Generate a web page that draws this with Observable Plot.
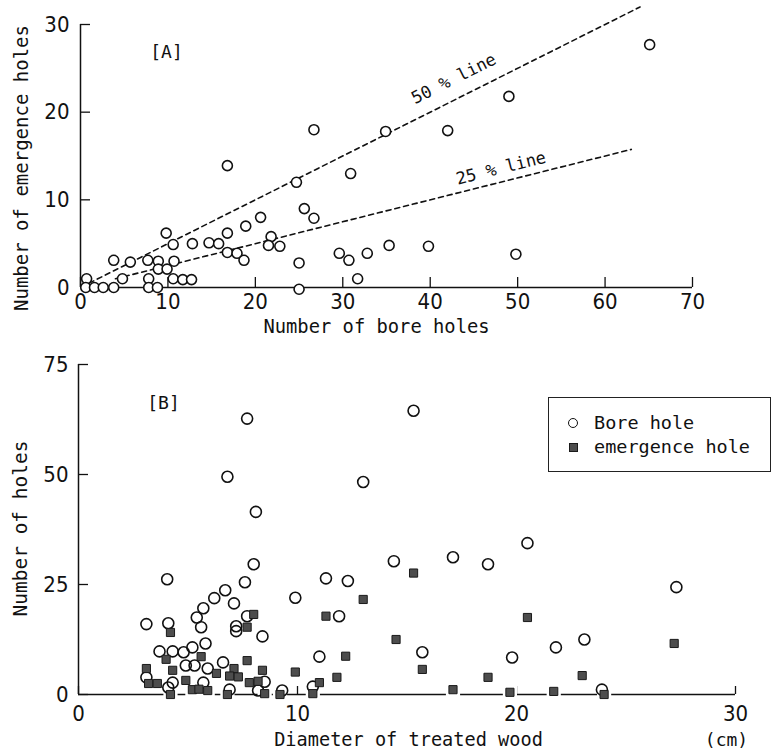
<!DOCTYPE html>
<html>
<head>
<meta charset="utf-8">
<script src="https://cdn.jsdelivr.net/npm/d3@7"></script>
<script src="https://cdn.jsdelivr.net/npm/@observablehq/plot@0.6"></script>
<style>
  html, body { margin: 0; padding: 0; background: #fff; }
  #wrap { position: relative; width: 773px; height: 753px; overflow: hidden; }
  #wrap svg { display: block; }
  .legend { position: absolute; left: 548px; top: 397px; width: 223px; height: 75px;
    border: 1.5px solid #222; background: #fff; font-family: "DejaVu Sans Mono", "Liberation Mono", monospace;
    font-size: 18.5px; color: #111; box-sizing: border-box; }
  .legend .row { position: absolute; left: 0; height: 22px; line-height: 22px; white-space: nowrap; }
  .legend .sym { position: absolute; }
  .legend .lab { position: absolute; left: 45px; }
</style>
</head>
<body>
<div id="wrap"></div>
<script>
// ---------- Panel A: bore holes vs emergence holes ----------
const boreA   = [0.7,0.6,1.6,2.6,3.8,3.8,4.8,5.7,7.7,7.8,7.8,8.8,8.9,8.9,9.9,9.8,10.6,10.7,10.6,11.7,12.7,12.8,14.7,15.8,16.8,16.8,16.8,17.9,18.7,18.9,20.6,21.8,21.5,22.8,24.7,25.0,25.0,25.6,26.7,26.7,29.6,30.7,30.9,31.7,32.8,34.9,35.3,39.8,42.0,49.0,49.8,65.1];
const emergeA = [1.0,0,0,0,0,3.1,1.0,2.9,3.1,1.0,0,0,3.0,2.1,2.1,6.2,4.9,3.0,1.0,0.9,0.9,5.0,5.1,5.0,6.2,13.9,4.0,3.9,3.1,7.0,8.0,5.8,4.8,4.7,12.0,2.8,-0.2,9.0,7.9,18.0,3.9,3.1,13.0,1.0,3.9,17.8,4.8,4.7,17.9,21.8,3.8,27.7];
const refRatios = [0.5, 0.25];
const refLabels = ["50 % line", "25 % line"];
const refStartX = [1, 4];
const refEndX   = [64, 63];
const refLabelX = [42.7, 48.1];
const refLabelY = [23.8, 13.6];
const xTicksA = [0, 10, 20, 30, 40, 50, 60, 70];
const yTicksA = [0, 10, 20, 30];

// ---------- Panel B: diameter vs number of holes ----------
const boreBx = [3.1,4.05,4.1,3.7,4.3,4.8,5.2,5.4,5.6,5.7,5.8,6.2,6.7,6.8,7.1,7.2,7.2,7.6,7.7,7.7,8.0,8.1,8.4,6.6,5.9,4.9,5.3,3.1,4.3,5.7,4.1,6.9,8.2,8.5,9.3,9.9,10.7,11.0,11.3,11.9,12.3,13.0,14.4,15.3,15.7,17.1,18.7,19.8,20.5,21.8,23.1,23.9,27.3];
const boreBy = [16,26.2,16.2,9.8,9.8,9.6,10.7,17.5,15.3,19.6,11.6,21.9,23.7,49.5,20.7,15.5,14.4,25.5,62.7,17.8,29.6,41.5,13.2,7.3,5.9,6.6,6.6,3.9,2.7,2.7,1.6,1.1,0.9,2.9,0.9,22,1.8,8.6,26.4,17.8,25.8,48.3,30.3,64.5,9.6,31.2,29.6,8.4,34.4,10.7,12.5,1.1,24.4];
const emergeBx = [3.1,3.2,3.6,4.2,4.0,4.3,4.2,4.9,5.2,5.6,5.9,5.5,6.3,7.1,6.9,7.3,6.8,7.7,7.7,8.0,7.8,8.2,8.4,8.5,9.2,9.9,10.7,11.0,11.3,11.8,12.2,13.0,14.5,15.3,15.7,17.1,18.7,19.7,20.5,21.7,23.0,24.0,27.2];
const emergeBy = [5.9,2.5,2.5,14.1,8.0,5.5,0,3.2,1.1,8.6,0.9,1.2,4.8,5.9,4.2,4.0,0,7.7,15.3,18.2,2.7,3.0,5.5,0.2,0,5.1,0.2,2.7,17.8,3.9,8.7,21.6,12.5,27.6,5.7,1.1,3.9,0.5,17.5,0.7,4.3,0,11.6];
const xTicksB = [0, 10, 20, 30];
const yTicksB = [0, 25, 50, 75];
const legendLabels = ["Bore hole", "emergence hole"];

const mono = '"DejaVu Sans Mono", "Liberation Mono", monospace';
const digits = '"Liberation Sans Narrow", "DejaVu Sans Condensed", "Liberation Sans", sans-serif';
const ink = "#111";
const center = {textAnchor: "middle", lineAnchor: "middle", fontFamily: mono, fill: ink};

const ptsA = boreA.map((x, i) => ({x, y: emergeA[i]}));
const refLines = refRatios.flatMap((r, i) => [
  {id: i, x: refStartX[i], y: r * refStartX[i]},
  {id: i, x: refEndX[i],   y: r * refEndX[i]}
]);
const refText = refLabels.map((t, i) => ({t, x: refLabelX[i], y: refLabelY[i], rot: -Math.atan(refRatios[i]) * 180 / Math.PI}));

const plotA = Plot.plot({
  width: 773, height: 335,
  marginLeft: 80, marginRight: 81, marginTop: 24, marginBottom: 48,
  style: {fontFamily: digits, color: ink, background: "white", overflow: "visible"},
  x: {domain: [0, 70]},
  y: {domain: [0, 30]},
  marks: [
    Plot.ruleY([0], {x1: 0, x2: 70, stroke: ink, strokeWidth: 1.5}),
    Plot.ruleX([0], {y1: 0, y2: 30, stroke: ink, strokeWidth: 1.5}),
    Plot.axisX({ticks: xTicksA, tickSize: -10, tickPadding: 16, tickFormat: d => d, fontSize: 22, fontFamily: digits, label: null, stroke: ink, strokeWidth: 1.3}),
    Plot.axisY({ticks: yTicksA, tickSize: -10, tickPadding: 21, tickFormat: d => d, fontSize: 22, fontFamily: digits, label: null, stroke: ink, strokeWidth: 1.3}),
    Plot.line(refLines, {x: "x", y: "y", z: "id", stroke: ink, strokeWidth: 1.6, strokeDasharray: "5,4"}),
    Plot.text(refText, {x: "x", y: "y", text: "t", rotate: d => d.rot, ...center, fontSize: 17}),
    Plot.dot(ptsA, {x: "x", y: "y", r: 5, stroke: ink, strokeWidth: 1.6, fill: "white"}),
    Plot.text(["[A]"], {frameAnchor: "top-left", dx: 86, dy: 28, text: d => d, ...center, fontSize: 18}),
    Plot.text(["Number of bore holes"], {frameAnchor: "bottom", dx: -10, dy: 39, text: d => d, ...center, fontSize: 18.8}),
    Plot.text(["Number of emergence holes"], {frameAnchor: "left", dx: -59, dy: 12, rotate: -90, text: d => d, ...center, fontSize: 19})
  ]
});

const boreB = boreBx.map((x, i) => ({x, y: boreBy[i]}));
const emergeB = emergeBx.map((x, i) => ({x, y: emergeBy[i]}));

const plotB = Plot.plot({
  width: 773, height: 418,
  marginLeft: 78, marginRight: 38, marginTop: 29, marginBottom: 59,
  style: {fontFamily: digits, color: ink, background: "white", overflow: "visible"},
  x: {domain: [0, 30]},
  y: {domain: [0, 75]},
  marks: [
    Plot.ruleY([0], {x1: 0, x2: 30, stroke: ink, strokeWidth: 1.5}),
    Plot.ruleX([0], {y1: 0, y2: 75, stroke: ink, strokeWidth: 1.5}),
    Plot.axisX({ticks: xTicksB, tickSize: -8, tickPadding: 19, tickFormat: d => d, fontSize: 22, fontFamily: digits, label: null, stroke: ink, strokeWidth: 1.3}),
    Plot.axisY({ticks: yTicksB, tickSize: -10, tickPadding: 20, tickFormat: d => d, fontSize: 22, fontFamily: digits, label: null, stroke: ink, strokeWidth: 1.3}),
    Plot.dot(emergeB.filter(d => d.y < 1.5), {x: "x", y: "y", symbol: "square", r: 8, fill: "white"}),
    Plot.dot(boreB, {x: "x", y: "y", r: 5.5, stroke: ink, strokeWidth: 1.6, fill: "none"}),
    Plot.dot(emergeB, {x: "x", y: "y", symbol: "square", r: 4.6, fill: "#4d4d4d", stroke: "#1a1a1a", strokeWidth: 1}),
    Plot.text(["[B]"], {frameAnchor: "top-left", dx: 85, dy: 39, text: d => d, ...center, fontSize: 18}),
    Plot.text(["Diameter of treated wood"], {frameAnchor: "bottom", dx: 1.5, dy: 46, text: d => d, ...center, fontSize: 18.6}),
    Plot.text(["(cm)"], {frameAnchor: "bottom-right", dx: -9, dy: 46, text: d => d, ...center, fontSize: 18}),
    Plot.text(["Number of holes"], {frameAnchor: "left", dx: -58, dy: -1, rotate: -90, text: d => d, ...center, fontSize: 19.5})
  ]
});

const wrap = document.getElementById("wrap");
wrap.appendChild(plotA);
wrap.appendChild(plotB);

// Legend (HTML, placed over panel B)
const leg = document.createElement("div");
leg.className = "legend";
legendLabels.forEach((lab, i) => {
  const row = document.createElement("div");
  row.className = "row";
  row.style.top = (14 + i * 24) + "px";
  row.style.width = "100%";
  const sym = document.createElement("span");
  sym.className = "sym";
  if (i === 0) {
    Object.assign(sym.style, {left: "19px", top: "6px", width: "8px", height: "8px", border: "1.6px solid #111", borderRadius: "50%"});
  } else {
    Object.assign(sym.style, {left: "20px", top: "7px", width: "7px", height: "7px", border: "1px solid #1a1a1a", background: "#4d4d4d"});
  }
  const t = document.createElement("span");
  t.className = "lab";
  t.textContent = lab;
  row.appendChild(sym);
  row.appendChild(t);
  leg.appendChild(row);
});
wrap.appendChild(leg);
</script>
</body>
</html>
